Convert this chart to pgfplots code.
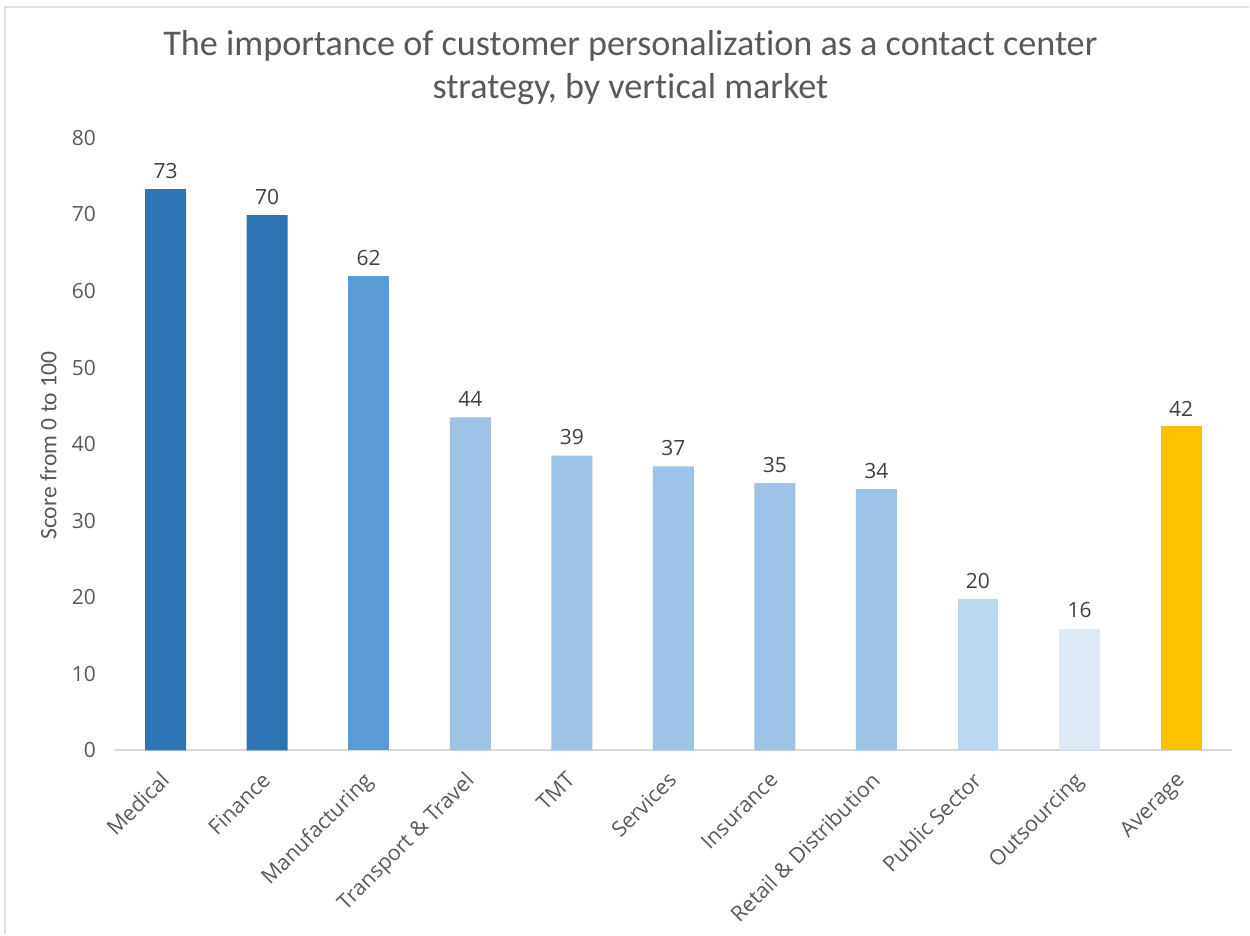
\documentclass[border=0pt]{standalone}
\usepackage{pgfplots}
\pgfplotsset{compat=1.18}
\usepackage{fontspec}
\setmainfont{Open Sans}
\newfontfamily\carlito[Ligatures={NoCommon,NoContextual}]{Carlito}
\definecolor{cA}{HTML}{2E75B6}
\definecolor{cB}{HTML}{5B9BD5}
\definecolor{cC}{HTML}{9DC3E6}
\definecolor{cD}{HTML}{BDD7EE}
\definecolor{cE}{HTML}{DEEBF7}
\definecolor{cF}{HTML}{FFC000}
\definecolor{txt}{HTML}{595959}
\definecolor{lbl}{HTML}{404040}
\pgfplotstableread{
x y lab
0 73.3 73
1 69.9 70
}\tA
\pgfplotstableread{
x y lab
2 61.9 62
}\tB
\pgfplotstableread{
x y lab
3 43.5 44
4 38.5 39
5 37.1 37
6 34.9 35
7 34.1 34
}\tC
\pgfplotstableread{
x y lab
8 19.8 20
}\tD
\pgfplotstableread{
x y lab
9 15.9 16
}\tE
\pgfplotstableread{
x y lab
10 42.3 42
}\tF
\begin{document}
\begin{tikzpicture}
\path (0,0) rectangle (625pt,467.5pt);
\draw[black!13, line width=1.2pt] (2.5pt,0) -- (2.5pt,464pt) -- (625pt,464pt);
\node[align=center, text=txt, font=\carlito\fontsize{18.1}{21.5}\selectfont] at (315.5pt,433.5pt)
  {The importance of customer personalizat\kern0pt ion as a contact center\\strategy, by vertical market};
\node[rotate=90, text=txt, font=\carlito\fontsize{11.8}{14}\selectfont] at (24.25pt,244.5pt) {Score from 0 to 100};
\begin{axis}[
  at={(57.5pt,92pt)}, anchor=south west,
  width=559pt, height=306.5pt, scale only axis,
  xmin=-0.5, xmax=10.5, ymin=0, ymax=80,
  ytick={0,10,...,80}, xtick={0,...,10},
  xticklabels={Medical,Finance,Manufacturing,Transport \& Travel,TMT,Services,Insurance,Retail \& Distribution,Public Sector,Outsourcing,Average},
  x tick label style={xshift=-3.3pt, yshift=-8.5pt, rotate=45, anchor=north east, font=\fontsize{10.7}{12}\selectfont, text=txt, inner sep=1pt},
  y tick label style={font=\fontsize{10.5}{12}\selectfont, text=txt, xshift=-6pt},
  /pgf/number format/assume math mode=true,
  major tick length=0pt,
  axis x line*=bottom, axis y line*=left,
  x axis line style={draw=black!15, line width=0.8pt},
  y axis line style={draw=none},
  ybar, bar width=20.5pt, bar shift=0pt,
  nodes near coords={\pgfplotspointmeta},
  point meta=explicit symbolic,
  every node near coord/.append style={font=\fontsize{10.5}{12}\selectfont, text=lbl, inner sep=5pt},
  clip=false,
]
\addplot[fill=cA, draw=none] table[x=x, y=y, meta=lab] {\tA};
\addplot[fill=cB, draw=none] table[x=x, y=y, meta=lab] {\tB};
\addplot[fill=cC, draw=none] table[x=x, y=y, meta=lab] {\tC};
\addplot[fill=cD, draw=none] table[x=x, y=y, meta=lab] {\tD};
\addplot[fill=cE, draw=none] table[x=x, y=y, meta=lab] {\tE};
\addplot[fill=cF, draw=none] table[x=x, y=y, meta=lab] {\tF};
\end{axis}
\end{tikzpicture}
\end{document}
